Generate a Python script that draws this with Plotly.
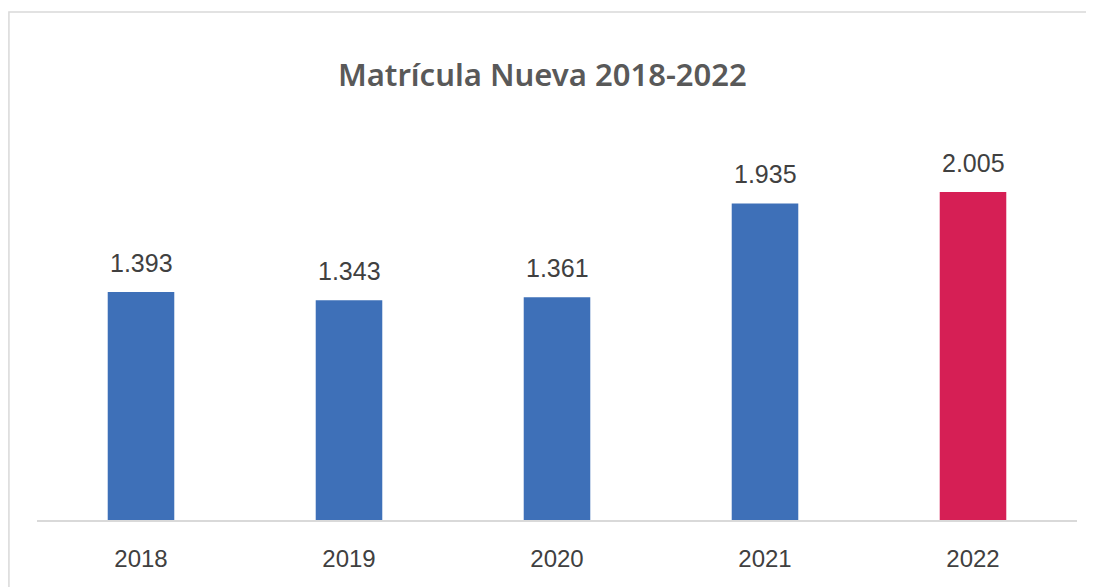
import plotly.graph_objects as go

years = ["2018", "2019", "2020", "2021", "2022"]
values = [1393, 1343, 1361, 1935, 2005]
bar_colors = ["#3E70B8", "#3E70B8", "#3E70B8", "#3E70B8", "#D61F55"]
title_text = "Matrícula Nueva 2018-2022"

fig = go.Figure()
fig.add_trace(go.Bar(
    x=years, y=values,
    marker=dict(color=bar_colors, line=dict(width=0)),
    width=0.32,
    hoverinfo="x+y",
))

for i, v in enumerate(values):
    fig.add_annotation(
        x=i, y=v, text=f"{v:,}".replace(",", "."),
        showarrow=False, yanchor="bottom", yshift=13,
        font=dict(family="Liberation Sans, Arial, sans-serif", size=25, color="#404040"),
    )

# outer chart border
fig.add_shape(type="rect", xref="paper", yref="paper",
              x0=-0.027, y0=-0.4, x1=1.1, y1=1.242,
              line=dict(color="#D9D9D9", width=1.5), fillcolor="rgba(0,0,0,0)", layer="below")

W, H = 1086, 579
fig.update_layout(
    width=W, height=H,
    margin=dict(l=29, r=17, t=103, b=67, pad=0),
    paper_bgcolor="white", plot_bgcolor="white",
    title=dict(text=title_text, x=0.492, xanchor="center", y=1 - 67 / H, yanchor="middle",
               font=dict(family="Noto Sans, sans-serif", size=31, color="#595959", weight=600)),
    showlegend=False,
    xaxis=dict(type="category", range=[-0.5, len(years) - 0.5], autorange=False,
               showline=True, linecolor="#D9D9D9", linewidth=2, showgrid=False,
               ticks="", ticklabelstandoff=16,
               tickfont=dict(family="Liberation Sans, Arial, sans-serif", size=24, color="#404040")),
    yaxis=dict(range=[0, 2500], autorange=False, visible=False, showgrid=False, zeroline=False),
)

fig.write_html("out.html")
